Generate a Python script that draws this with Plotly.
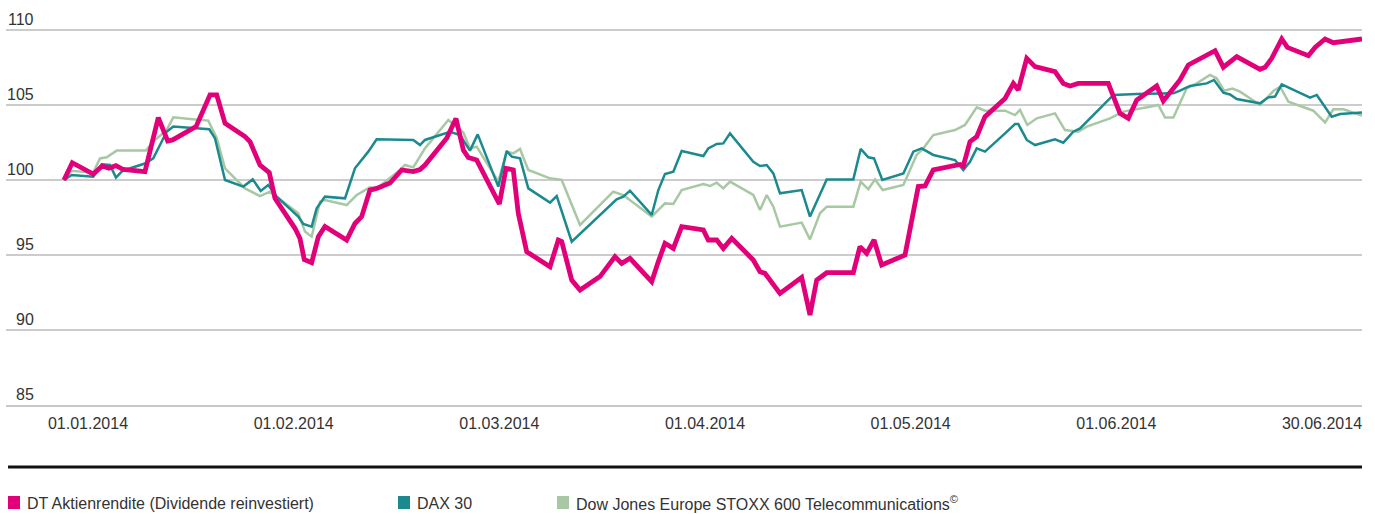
import plotly.graph_objects as go

# x = calendar day offset from 01.01.2014 (day 0) to 30.06.2014 (day 180)
dt_days = [0, 1.15, 4.06, 5.31, 6.24, 7.21, 8.22, 11.23, 13.08, 14.38, 15.07, 18.31, 20.25, 21.18,
           22.33, 25.10, 25.79, 27.18, 28.47, 29.26, 32.03, 32.73, 33.32, 34.35, 35.27, 36.19, 39.2,
           40.35, 41.28, 42.43, 43.36, 45.21, 46.83, 48.44, 49.37, 50.06, 53.07, 54.36, 55.38, 56.07,
           57.23, 60.37, 61.3, 62.31, 63.0, 64.17, 67.4, 68.55, 69.02, 70.41, 71.56, 74.33, 76.41,
           77.34, 78.49, 81.5, 82.42, 83.34, 84.5, 85.66, 88.66, 89.35, 90.52, 91.43, 92.6, 95.59,
           96.52, 97.21, 99.29, 102.3, 103.45, 104.38, 105.77, 109.46, 110.38, 111.31, 112.33,
           113.39, 116.63, 118.47, 119.4, 120.55, 124.26, 124.71, 125.64, 126.57, 127.72, 130.5,
           131.65, 132.34, 133.51, 134.66, 137.43, 138.58, 139.51, 140.66, 144.82, 146.44, 147.59,
           148.76, 151.53, 152.45, 154.76, 155.92, 159.62, 160.77, 162.63, 165.86, 166.56, 167.48,
           168.87, 169.65, 172.56, 173.49, 174.88, 176.03, 180]
dt_vals = [100.0, 101.15, 100.4, 100.93, 100.78, 100.96, 100.7, 100.56, 104.16, 102.6, 102.67, 103.56,
           105.67, 105.67, 103.78, 102.9, 102.56, 101.0, 100.49, 98.78, 96.78, 96.1, 94.7, 94.49,
           96.22, 96.9, 96.0, 97.1, 97.56, 99.33, 99.44, 99.8, 100.67, 100.56, 100.7, 101.0, 102.78,
           104.1, 102.0, 101.5, 101.33, 98.4, 100.78, 100.67, 97.78, 95.22, 94.22, 96.0, 95.9, 93.33,
           92.67, 93.56, 94.89, 94.44, 94.78, 93.22, 94.56, 95.78, 95.44, 96.89, 96.67, 96.0, 96.0,
           95.44, 96.11, 94.67, 93.89, 93.78, 92.44, 93.51, 91.0, 93.33, 93.82, 93.82, 95.56, 95.11,
           96.0, 94.33, 95.0, 99.56, 99.6, 100.67, 101.04, 100.93, 102.56, 102.89, 104.22, 105.44,
           106.44, 106.0, 108.11, 107.56, 107.22, 106.44, 106.27, 106.44, 106.44, 104.44, 104.11,
           105.33, 106.27, 105.27, 106.67, 107.67, 108.62, 107.52, 108.22, 107.38, 107.51, 108.11,
           109.4, 108.84, 108.29, 108.84, 109.4, 109.15, 109.4]

dax_days = [0, 1.07, 4.06, 5.23, 6.38, 7.21, 8.14, 11.23, 12.38, 14.24, 15.16, 18.86, 20.15, 20.94,
            22.33, 24.87, 26.17, 27.28, 28.33, 29.5, 32.49, 33.19, 34.35, 35.04, 36.19, 38.97, 40.35,
            42.2, 43.36, 48.44, 49.37, 50.06, 53.53, 54.92, 56.3, 57.37, 60.23, 61.39, 62.09, 63.24,
            64.39, 67.4, 68.33, 70.41, 75.72, 76.64, 77.56, 78.49, 81.5, 82.42, 83.34, 84.5, 85.66,
            88.66, 89.35, 90.52, 91.43, 92.36, 95.59, 96.52, 97.45, 98.37, 99.29, 102.3, 103.45,
            105.77, 109.46, 110.48, 111.54, 112.33, 113.48, 116.4, 117.78, 118.94, 120.55, 123.56,
            124.71, 125.64, 126.57, 127.72, 130.5, 131.88, 132.34, 133.51, 134.66, 137.43, 138.58,
            139.97, 140.9, 145.52, 148.76, 151.76, 153.84, 154.76, 156.15, 158.46, 159.48, 160.77,
            161.7, 162.63, 165.86, 167.01, 167.94, 168.87, 172.8, 173.73, 175.8, 176.96, 180]
dax_vals = [100.0, 100.33, 100.22, 101.04, 101.0, 100.16, 100.62, 101.1, 101.44, 103.22, 103.56,
            103.44, 103.38, 102.78, 100.0, 99.56, 100.04, 99.27, 99.67, 98.89, 97.56, 97.07, 96.89,
            98.11, 98.89, 98.78, 100.78, 101.89, 102.71, 102.67, 102.33, 102.67, 103.22, 103.0,
            101.96, 103.04, 99.56, 101.93, 101.56, 101.44, 99.44, 98.49, 98.93, 95.89, 98.33, 98.71,
            98.89, 99.29, 97.67, 99.33, 100.4, 100.56, 101.93, 101.6, 102.11, 102.4, 102.44, 103.11,
            101.22, 100.93, 101.0, 100.44, 99.11, 99.33, 97.56, 100.04, 100.04, 102.07, 101.51,
            101.44, 100.0, 100.44, 101.89, 102.11, 101.67, 101.33, 100.67, 101.22, 102.11, 101.89,
            103.11, 103.73, 103.73, 102.67, 102.33, 102.71, 102.49, 103.22, 103.44, 105.67, 105.73,
            105.78, 105.78, 105.96, 106.27, 106.44, 106.67, 105.82, 105.7, 105.4, 105.11, 105.51,
            105.56, 106.38, 105.49, 105.67, 104.22, 104.4, 104.5]

stoxx_days = [0, 1.07, 4.06, 4.99, 5.92, 7.31, 11.37, 12.38, 14.24, 15.16, 18.17, 20.01, 21.18, 22.33,
              25.10, 27.18, 28.57, 32.49, 33.42, 34.35, 35.5, 36.19, 39.2, 40.59, 42.43, 43.36, 46.6,
              47.29, 48.44, 50.06, 53.3, 55.38, 56.3, 57.23, 60.23, 61.39, 62.31, 63.24, 64.39, 67.4,
              69.02, 71.56, 76.17, 77.56, 81.5, 83.34, 84.5, 85.66, 88.66, 89.58, 90.52, 91.43, 92.36,
              95.59, 96.52, 97.45, 98.37, 99.29, 102.3, 103.45, 104.84, 105.77, 109.46, 110.48,
              111.54, 112.47, 113.53, 116.4, 118.24, 119.17, 120.55, 123.56, 124.95, 126.57, 127.72,
              130.5, 131.88, 132.57, 133.59, 134.9, 137.43, 138.81, 140.66, 141.83, 145.06, 146.9,
              150.6, 151.76, 152.68, 153.84, 155.69, 157.08, 158.92, 159.85, 160.86, 162.04, 163.08,
              165.86, 167.71, 168.64, 169.79, 173.25, 174.88, 176.03, 177.42, 180]
stoxx_vals = [100.0, 100.62, 100.49, 101.44, 101.51, 101.96, 101.96, 102.56, 103.33, 104.18, 104.04,
              103.96, 102.8, 100.78, 99.44, 98.93, 99.22, 97.78, 96.56, 96.22, 98.56, 98.67, 98.33,
              99.0, 99.51, 99.44, 100.67, 101.0, 100.84, 102.11, 104.0, 103.16, 102.11, 102.22, 99.89,
              101.89, 101.78, 102.07, 100.67, 100.11, 100.0, 97.0, 99.22, 99.0, 97.56, 98.44, 98.4,
              99.33, 99.73, 99.6, 99.82, 99.44, 99.89, 99.0, 98.0, 99.0, 98.22, 96.89, 97.16, 96.04,
              97.78, 98.22, 98.22, 99.89, 99.38, 100.04, 99.33, 99.67, 101.67, 102.11, 103.0, 103.33,
              103.67, 104.84, 104.62, 104.62, 104.33, 104.67, 103.67, 104.11, 104.44, 103.33, 103.22,
              103.56, 104.11, 104.56, 104.89, 105.0, 104.16, 104.16, 106.11, 106.44, 107.0, 106.78,
              105.95, 106.1, 105.89, 105.0, 105.93, 106.22, 105.22, 104.62, 103.84, 104.71, 104.71,
              104.29]

series_names = ["DT Aktienrendite (Dividende reinvestiert)", "DAX 30",
                "Dow Jones Europe STOXX 600 Telecommunications<sup>©</sup>"]
series_colors = ["#e2007a", "#1b8a8f", "#a8c8a4"]
series_widths = [4.8, 2.5, 2.5]

x_tick_labels = ["01.01.2014", "01.02.2014", "01.03.2014", "01.04.2014",
                 "01.05.2014", "01.06.2014", "30.06.2014"]
x_tick_first = 3.33
x_tick_step = 28.52
y_ticks = [85, 90, 95, 100, 105, 110]

FONT = "Liberation Sans, Arial, Helvetica, sans-serif"
TXT = "#333333"

W, H = 1375, 514
ML, MR, MT, MB = 6, 13, 28, 109
plot_w = W - ML - MR
plot_h = H - MT - MB
y_top = 85 + plot_h / 15.0  # 15 px per index point

fig = go.Figure()
data = [(dt_days, dt_vals), (dax_days, dax_vals), (stoxx_days, stoxx_vals)]
for i in [2, 1, 0]:
    xs, ys = data[i]
    fig.add_trace(go.Scatter(x=xs, y=ys, mode="lines", name=series_names[i],
                             line=dict(color=series_colors[i], width=series_widths[i]),
                             showlegend=False, hoverinfo="skip"))

fig.update_layout(
    width=W, height=H,
    margin=dict(l=ML, r=MR, t=MT, b=MB, pad=0),
    paper_bgcolor="white", plot_bgcolor="white",
    font=dict(family=FONT, size=16, color=TXT),
    xaxis=dict(range=[-8.04, 180], showgrid=False, zeroline=False,
               tickmode="array",
               tickvals=[x_tick_first + k * x_tick_step for k in range(len(x_tick_labels))],
               ticktext=x_tick_labels, ticks="", ticklabelstandoff=3,
               tickfont=dict(family=FONT, size=16, color=TXT),
               showline=True, linecolor="#c8c8c8", linewidth=1.5),
    yaxis=dict(range=[85, y_top], tickmode="array", tickvals=y_ticks, showticklabels=False,
               showgrid=True, gridcolor="#cccccc", gridwidth=1.5, zeroline=False),
)

for v in y_ticks:
    fig.add_annotation(xref="paper", yref="y", x=0, y=v, text=str(v), showarrow=False,
                       xanchor="right", yanchor="bottom", xshift=30, yshift=0,
                       font=dict(family=FONT, size=16, color=TXT))

# black separator line
sep_y = (H - MB - 467) / plot_h
fig.add_shape(type="line", xref="paper", yref="paper", x0=0.0015, x1=1, y0=sep_y, y1=sep_y,
              line=dict(color="#111111", width=3))

# legend
legend_x_px = [8, 398, 557]
for name, col, lx in zip(series_names, series_colors, legend_x_px):
    x0 = (lx - ML) / plot_w
    x1 = (lx + 12 - ML) / plot_w
    y0 = (H - MB - 509) / plot_h
    y1 = (H - MB - 496) / plot_h
    fig.add_shape(type="rect", xref="paper", yref="paper", x0=x0, x1=x1, y0=y0, y1=y1,
                  line=dict(width=0), fillcolor=col)
    fig.add_annotation(xref="paper", yref="paper", x=(lx + 17 - ML) / plot_w,
                       y=(H - MB - 503) / plot_h,
                       text=name, showarrow=False, xanchor="left", yanchor="middle",
                       font=dict(family=FONT, size=16, color=TXT))

fig.write_html("out.html", config={"displayModeBar": False},
               post_script="document.body.style.margin='0';document.body.style.overflow='hidden';")
